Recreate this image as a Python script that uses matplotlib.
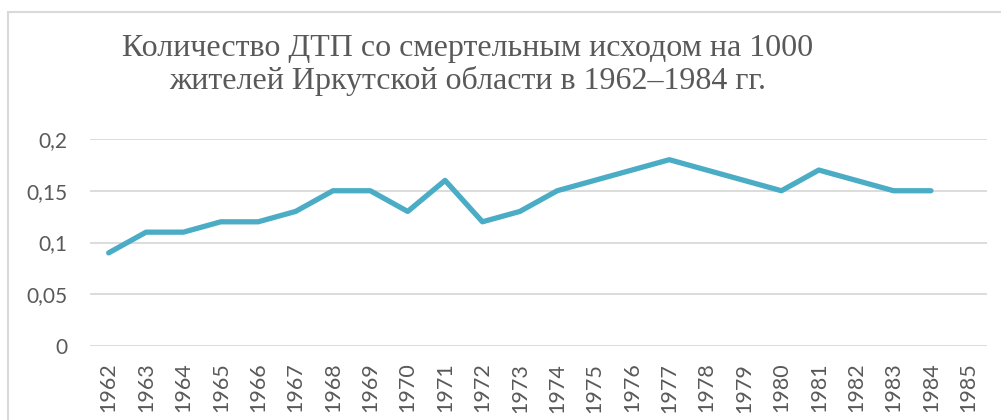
import matplotlib.pyplot as plt
from matplotlib.patches import Rectangle
from matplotlib.ticker import FixedLocator

years = [str(y) for y in range(1962, 1986)]
values = [0.09, 0.11, 0.11, 0.12, 0.12, 0.13, 0.15, 0.15, 0.13, 0.16, 0.12, 0.13,
          0.15, 0.16, 0.17, 0.18, 0.17, 0.16, 0.15, 0.17, 0.16, 0.15, 0.15]
y_ticks = [0, 0.05, 0.1, 0.15, 0.2]
y_labels = ["0", "0,05", "0,1", "0,15", "0,2"]
title = "Количество ДТП со смертельным исходом на 1000\nжителей Иркутской области в 1962–1984 гг."

fig = plt.figure(figsize=(10.01, 4.2), dpi=100)
W, H = 1001, 420

# chart frame
fig.patches.append(Rectangle((7.5 / W, -0.1), 1.2, 1.1 - 12 / H,
                             transform=fig.transFigure, fill=False,
                             edgecolor="#d9d9d9", linewidth=1.5))

ax = fig.add_axes([90 / W, 1 - 346 / H, (987 - 90) / W, (346 - 139) / H])
ax.plot(range(len(values)), values, color="#4bacc6", linewidth=3.8,
        solid_capstyle="round", solid_joinstyle="round", zorder=3)

ax.set_xlim(-0.5, len(years) - 0.5)
ax.set_ylim(0, 0.2)
ax.set_xticks(range(len(years)))
ax.set_xticklabels(years, rotation=90, fontsize=15.5, color="#595959", family="Lato")
ax.yaxis.set_major_locator(FixedLocator(y_ticks))
ax.set_yticklabels(y_labels, fontsize=15, color="#595959", family="Lato")
ax.tick_params(axis="y", length=0, pad=16)
ax.tick_params(axis="x", length=0, pad=12)
ax.grid(axis="y", color="#d9d9d9", linewidth=1.3)
ax.set_axisbelow(True)
for s in ax.spines.values():
    s.set_visible(False)

fig.text(468 / W, 1 - 65 / H, title, ha="center", va="center", fontsize=23,
         family="Liberation Serif", color="#595959", linespacing=1.15)

fig.savefig("out.png", dpi=100)
